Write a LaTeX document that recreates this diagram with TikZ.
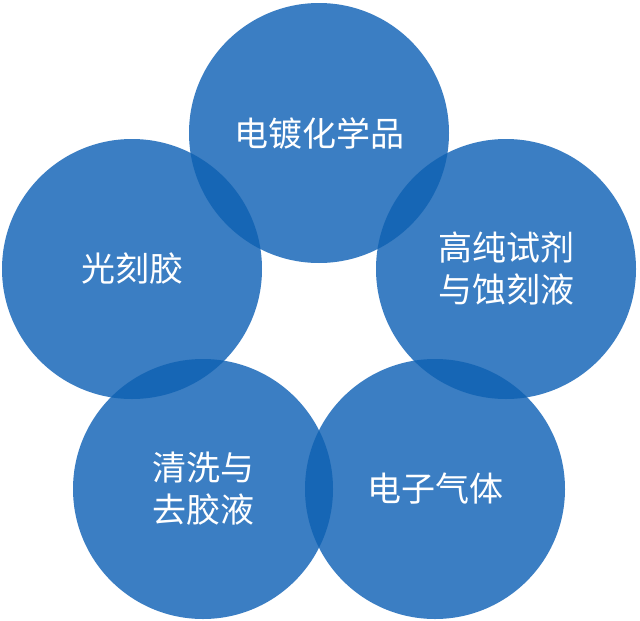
\documentclass[tikz,border=0pt]{standalone}
\usepackage{fontspec}
\newfontfamily\cjk{Noto Sans CJK SC}
\definecolor{petalblue}{HTML}{3B7EC3}
\definecolor{petaldark}{HTML}{1666B5}
\tikzstyle{ring}=[circle, fill=petalblue, inner sep=0pt, minimum size=260pt, text=white, align=center, font=\cjk\fontsize{34}{42}\selectfont]
\begin{document}
\begin{tikzpicture}[x=1pt, y=-1pt]
        \useasboundingbox (0, 0) rectangle (640, 621);
        \node[ring] (T) at (319, 133) {电镀化学品};
        \node[ring] (L) at (132, 269) {光刻胶};
        \node[ring] (R) at (506, 269) {高纯试剂\\与蚀刻液};
        \node[ring] (BL) at (203, 489) {清洗与\\去胶液};
        \node[ring] (BR) at (435, 489) {电子气体};
        \begin{scope}
            \clip (T) circle (130);
            \fill[petaldark] (L) circle (130);
            \fill[petaldark] (R) circle (130);
        \end{scope}
        \begin{scope}
            \clip (BL) circle (130);
            \fill[petaldark] (L) circle (130);
            \fill[petaldark] (BR) circle (130);
        \end{scope}
        \begin{scope}
            \clip (BR) circle (130);
            \fill[petaldark] (R) circle (130);
        \end{scope}
    \end{tikzpicture}
\end{document}
